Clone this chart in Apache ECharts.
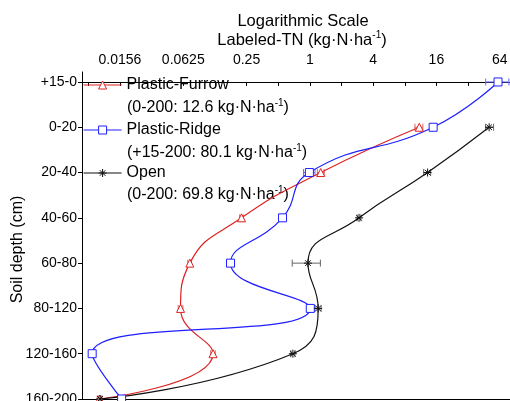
<!DOCTYPE html>
<html><head><meta charset="utf-8">
<script src="https://cdn.jsdelivr.net/npm/echarts@6/dist/echarts.min.js"></script>
<style>html,body{margin:0;padding:0;background:#fff}#c{width:510px;height:401px}</style>
</head><body><div id="c"></div><script>
// ---- data ----
const depths = ['+15-0','0-20','20-40','40-60','60-80','80-120','120-160','160-200'];
const xTickValues = [0.015625, 0.0625, 0.25, 1, 4, 16, 64];
const xTickLabels = ['0.0156', '0.0625', '0.25', '1', '4', '16', '64'];
const xMinorTickValues = [0.0078125, 0.03125, 0.125, 0.5, 2, 8, 32];

const seriesNames = ['Plastic-Furrow', 'Plastic-Ridge', 'Open'];
const seriesNotes = ['(0-200: 12.6 kg·N·ha', '(+15-200: 80.1 kg·N·ha', '(0-200: 69.8 kg·N·ha'];

const furrowDepthIdx = [1, 2, 3, 4, 5, 6, 7];
const furrowValues = [11.0, 1.27, 0.224, 0.0722, 0.0589, 0.12, 0.0100];
const furrowLow  = [10.0, 1.18, 0.215, 0.069, 0.056, 0.114, 0.0095];
const furrowHigh = [11.9, 1.37, 0.233, 0.075, 0.062, 0.126, 0.0105];

const ridgeDepthIdx = [0, 1, 2, 3, 4, 5, 6, 7];
const ridgeValues = [61.7, 14.9, 0.99, 0.55, 0.176, 1.01, 0.0085, 0.0162];
const ridgeLow  = [47.1, 14.2, 0.87, 0.53, 0.169, 0.95, 0.0081, 0.0155];
const ridgeHigh = [78.3, 15.6, 1.12, 0.57, 0.183, 1.07, 0.0089, 0.0169];

const openDepthIdx = [1, 2, 3, 4, 5, 6, 7];
const openValues = [50.8, 13.2, 2.94, 0.96, 1.2, 0.69, 0.0101];
const openLow  = [47, 12.1, 2.82, 0.68, 1.12, 0.66, 0.0097];
const openHigh = [56, 14.1, 3.06, 1.26, 1.28, 0.72, 0.0105];

// ---- styles ----
const FONT = "'Liberation Sans', Arial, sans-serif";
const RED = '#dd2222', BLUE = '#1f1fff', BLACK = '#111111';
const ERR = ['#e06060', '#6a6aff', '#666666'];
const ASTER = 'path://M0,5L10,5M5,0L5,10M1.5,1.5L8.5,8.5M8.5,1.5L1.5,8.5';

function pts(vals, idx) { return vals.map((v, i) => [v, idx[i]]); }
function errs(lo, hi, idx) { return lo.map((l, i) => [l, hi[i], idx[i]]); }

function lineSeries(name, data, color, symbol, size, fill) {
  return {
    name, type: 'line', data, smooth: 0.5, z: 3,
    symbol, symbolSize: size,
    lineStyle: { color, width: 1.2 },
    itemStyle: { color: fill, borderColor: color, borderWidth: 1 },
    emphasis: { disabled: true }
  };
}
function errSeries(data, color) {
  return {
    type: 'custom', data, z: 2, silent: true,
    encode: { x: [0, 1], y: 2 },
    renderItem(params, api) {
      const y = api.value(2);
      const p1 = api.coord([api.value(0), y]);
      const p2 = api.coord([api.value(1), y]);
      const h = 3.5;
      const st = { stroke: color, lineWidth: 1 };
      return { type: 'group', children: [
        { type: 'line', shape: { x1: p1[0], y1: p1[1], x2: p2[0], y2: p2[1] }, style: st },
        { type: 'line', shape: { x1: p1[0], y1: p1[1] - h, x2: p1[0], y2: p1[1] + h }, style: st },
        { type: 'line', shape: { x1: p2[0], y1: p2[1] - h, x2: p2[0], y2: p2[1] + h }, style: st }
      ]};
    }
  };
}

const chart = echarts.init(document.getElementById('c'), null, { renderer: 'canvas' });
const xMin = Math.pow(4, -3.6), xMax = Math.pow(4, 3.4);
const legendCenters = [85, 130, 173];
const noteCenters = [108, 153, 195];

const supRich = (fs) => ({
  a: { fontSize: fs, fontFamily: FONT, fill: '#000', lineHeight: 20, verticalAlign: 'middle' },
  s: { fontSize: 10, fontFamily: FONT, fill: '#000', lineHeight: 20, verticalAlign: 'top' }
});

const option = {
  animation: false,
  textStyle: { fontFamily: FONT },
  grid: { left: 82, top: 72, right: -15, bottom: 2, containLabel: false, outerBoundsMode: 'none' },
  xAxis: [{
    type: 'log', logBase: 4, position: 'top', min: xMin, max: xMax,
    axisLine: { lineStyle: { color: '#000', width: 1 } },
    axisTick: { inside: true, length: 4, customValues: xTickValues.concat(xMinorTickValues), lineStyle: { color: '#000' } },
    axisLabel: {
      customValues: xTickValues, margin: 5, color: '#000', fontSize: 14, fontFamily: FONT,
      formatter: v => { let b = 0, d = 1e9; xTickValues.forEach((t, i) => { const e = Math.abs(Math.log(v / t)); if (e < d) { d = e; b = i; } }); return xTickLabels[b]; }
    },
    splitLine: { show: false }
  }, {
    type: 'log', logBase: 4, position: 'bottom', min: xMin, max: xMax,
    axisLine: { lineStyle: { color: '#000', width: 1 } },
    axisTick: { show: false }, axisLabel: { show: false }, splitLine: { show: false }
  }],
  yAxis: {
    type: 'value', inverse: true, min: -0.22, max: 7,
    name: 'Soil depth (cm)', nameLocation: 'middle', nameGap: 56, nameMoveOverlap: false,
    nameTextStyle: { fontSize: 16, color: '#000', fontFamily: FONT, padding: [0, 28, 0, 0] },
    axisLine: { lineStyle: { color: '#000', width: 1 } },
    axisTick: { inside: false, length: 4, customValues: depths.map((d, i) => i), lineStyle: { color: '#000' } },
    axisLabel: { customValues: depths.map((d, i) => i), margin: 5, color: '#000', fontSize: 14, fontFamily: FONT,
      formatter: v => depths[Math.round(v)] },
    splitLine: { show: false }
  },
  legend: seriesNames.map((n, i) => ({
    data: [n], orient: 'vertical', left: 83, top: legendCenters[i] - 9, padding: 0,
    itemWidth: 38, itemHeight: 10, itemGap: 6,
    lineStyle: { width: 1.2 }, itemStyle: { borderWidth: 1 },
    textStyle: { fontSize: 16, color: '#000', fontFamily: FONT, lineHeight: 18 },
    selectedMode: false
  })),
  graphic: [
    { type: 'text', x: 303, y: 21, style: {
      text: 'Logarithmic Scale', align: 'center', verticalAlign: 'middle', fontSize: 16.5, fontFamily: FONT, fill: '#000' } },
    { type: 'text', x: 302, y: 40, style: {
      text: '{a|Labeled-TN (kg·N·ha}{s|-1}{a|)}', align: 'center', verticalAlign: 'middle', rich: supRich(16.5) } }
  ].concat(seriesNotes.map((t, i) => ({
    type: 'text', x: 127, y: noteCenters[i], style: {
      text: '{a|' + t + '}{s|-1}{a|)}', align: 'left', verticalAlign: 'middle', rich: supRich(16) }
  }))),
  series: [
    errSeries(errs(furrowLow, furrowHigh, furrowDepthIdx), ERR[0]),
    errSeries(errs(ridgeLow, ridgeHigh, ridgeDepthIdx), ERR[1]),
    errSeries(errs(openLow, openHigh, openDepthIdx), ERR[2]),
    lineSeries(seriesNames[0], pts(furrowValues, furrowDepthIdx), RED, 'triangle', 8, '#fff'),
    lineSeries(seriesNames[1], pts(ridgeValues, ridgeDepthIdx), BLUE, 'rect', 8, '#fff'),
    lineSeries(seriesNames[2], pts(openValues, openDepthIdx), BLACK, ASTER, 8, 'none')
  ]
};
chart.setOption(option);
</script></body></html>
